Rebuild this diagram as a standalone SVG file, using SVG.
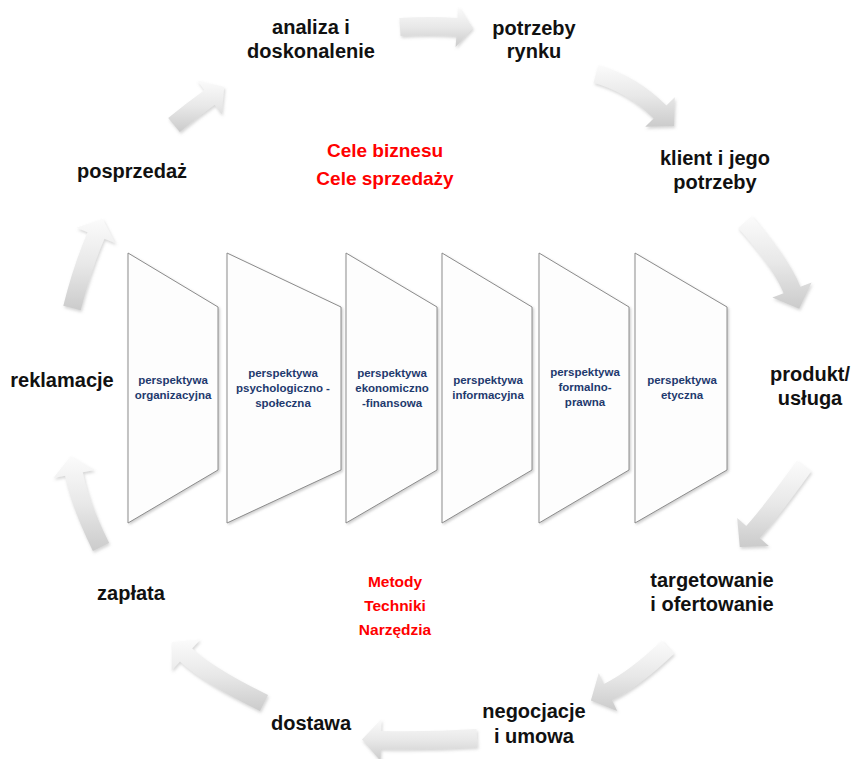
<svg xmlns="http://www.w3.org/2000/svg" width="857" height="759" viewBox="0 0 857 759">
<defs>
<linearGradient id="ag" x1="0" y1="0" x2="0" y2="1">
<stop offset="0" stop-color="#fbfbfb"/>
<stop offset="0.5" stop-color="#e8e8e8"/>
<stop offset="1" stop-color="#cbcbcb"/>
</linearGradient>
<filter id="sh" x="-20%" y="-20%" width="140%" height="140%">
<feDropShadow dx="1" dy="2" stdDeviation="1.5" flood-color="#888" flood-opacity="0.35"/>
</filter>
<filter id="psh" x="-10%" y="-10%" width="120%" height="120%">
<feDropShadow dx="1.5" dy="1.5" stdDeviation="1" flood-color="#777" flood-opacity="0.35"/>
</filter>
</defs>
<style>
.lbl{font-family:"Liberation Sans",Arial,sans-serif;font-weight:bold;font-size:20px;fill:#111;text-anchor:middle}
.red{font-family:"Liberation Sans",Arial,sans-serif;font-weight:bold;font-size:19px;fill:#ff0000;text-anchor:middle}
.red2{font-family:"Liberation Sans",Arial,sans-serif;font-weight:bold;font-size:15.5px;fill:#ff0000;text-anchor:middle}
.ptx{font-family:"Liberation Sans",Arial,sans-serif;font-weight:bold;font-size:11.5px;fill:#1f3a6e;text-anchor:middle}
.panel{fill:#fdfdfd;stroke:#8c8c8c;stroke-width:1;filter:url(#psh)}
.arr{fill:url(#ag);filter:url(#sh)}
</style>
<rect width="857" height="759" fill="#ffffff"/>

<g id="connectors">
<path class="arr" d="M399.4,18 Q429,16 457.6,18 L458.4,7 L473,28.1 L455.6,47 L456.4,36 Q429,34 400.6,36 Z"/>
<path class="arr" d="M598.4,65.3 Q636.7,76 666.4,105.6 L674.8,97.2 L674.1,126.1 L645.2,126.8 L653.6,118.4 Q627.3,92 593.6,82.7 Z"/>
<path class="arr" d="M751.8,216.1 Q789.7,259.3 800.4,286.8 L811.6,282.4 L799.2,308.7 L772.4,297.6 L783.6,293.2 Q774.1,268.7 738.2,227.9 Z"/>
<path class="arr" d="M811.3,471.2 Q779.9,515.1 759.8,538 L768.8,545.9 L739.8,547 L737.2,518.1 L746.2,526.1 Q765.8,503.9 796.7,460.8 Z"/>
<path class="arr" d="M674.2,653.5 Q640.1,686.3 612,700.1 L617.2,710.9 L590.9,700.4 L598.8,673.1 L604,683.9 Q629.7,671.3 661.8,640.5 Z"/>
<path class="arr" d="M477.5,747 Q428.2,750 380.8,749 L380.6,761 L362,739.6 L381.4,719 L381.2,731 Q427.8,732 476.5,729 Z"/>
<path class="arr" d="M260,711.1 Q202.7,683 179.9,661.6 L171.7,670.4 L172.1,642 L200.3,639.6 L192.1,648.4 Q213.1,668 268,694.9 Z"/>
<path class="arr" d="M92.9,551 Q71,506.4 65.2,475.7 L53.4,477.9 L70.6,456.3 L94.6,470.1 L82.8,472.3 Q88.2,500.6 109.1,543 Z"/>
<path class="arr" d="M63.3,305.8 Q73.4,265.2 87.6,232.2 L76.5,227.8 L102.6,218.8 L115.5,243.2 L104.4,238.8 Q90.6,270.8 80.7,310.2 Z"/>
<path class="arr" d="M168.2,118.1 Q186.1,103.2 204.3,90.2 L197.3,80.4 L224.2,87 L221.7,114.6 L214.7,104.8 Q197.1,117.4 179.8,131.9 Z"/>
</g>

<g id="panel-organizacyjna">
<polygon class="panel" points="128,253 218,307 218,470 128,523"/>
<text class="ptx" x="173" y="384">perspektywa</text>
<text class="ptx" x="173" y="399">organizacyjna</text>
</g>
<g id="panel-psychologiczno">
<polygon class="panel" points="227,253 341,307 341,470 227,523"/>
<text class="ptx" x="283" y="377">perspektywa</text>
<text class="ptx" x="283" y="392">psychologiczno -</text>
<text class="ptx" x="283" y="407">społeczna</text>
</g>
<g id="panel-ekonomiczno">
<polygon class="panel" points="346,253 437,307 437,470 346,523"/>
<text class="ptx" x="392" y="377">perspektywa</text>
<text class="ptx" x="392" y="392">ekonomiczno</text>
<text class="ptx" x="392" y="407">-finansowa</text>
</g>
<g id="panel-informacyjna">
<polygon class="panel" points="442,253 532,307 532,470 442,523"/>
<text class="ptx" x="488" y="384">perspektywa</text>
<text class="ptx" x="488" y="399">informacyjna</text>
</g>
<g id="panel-formalno">
<polygon class="panel" points="539,253 629,307 629,470 539,523"/>
<text class="ptx" x="585" y="376">perspektywa</text>
<text class="ptx" x="585" y="391">formalno-</text>
<text class="ptx" x="585" y="406">prawna</text>
</g>
<g id="panel-etyczna">
<polygon class="panel" points="635,253 727,307 727,470 635,523"/>
<text class="ptx" x="682" y="384">perspektywa</text>
<text class="ptx" x="682" y="399">etyczna</text>
</g>

<g id="cele">
<text class="red" x="385" y="157">Cele biznesu</text>
<text class="red" x="385" y="185">Cele sprzedaży</text>
</g>
<g id="metody">
<text class="red2" x="395" y="587">Metody</text>
<text class="red2" x="395" y="611">Techniki</text>
<text class="red2" x="395" y="635">Narzędzia</text>
</g>

<g id="analiza"><text class="lbl" x="311" y="34">analiza i</text><text class="lbl" x="311" y="58">doskonalenie</text></g>
<g id="potrzeby-rynku"><text class="lbl" x="534" y="35">potrzeby</text><text class="lbl" x="534" y="58">rynku</text></g>
<g id="klient"><text class="lbl" x="715" y="165">klient i jego</text><text class="lbl" x="715" y="189">potrzeby</text></g>
<g id="produkt"><text class="lbl" x="810" y="381">produkt/</text><text class="lbl" x="810" y="405">usługa</text></g>
<g id="targetowanie"><text class="lbl" x="712" y="587">targetowanie</text><text class="lbl" x="712" y="611">i ofertowanie</text></g>
<g id="negocjacje"><text class="lbl" x="534" y="718">negocjacje</text><text class="lbl" x="534" y="743">i umowa</text></g>
<g id="dostawa"><text class="lbl" x="311" y="730">dostawa</text></g>
<g id="zaplata"><text class="lbl" x="131" y="600">zapłata</text></g>
<g id="reklamacje"><text class="lbl" x="62" y="387">reklamacje</text></g>
<g id="posprzedaz"><text class="lbl" x="132" y="178">posprzedaż</text></g>
</svg>
